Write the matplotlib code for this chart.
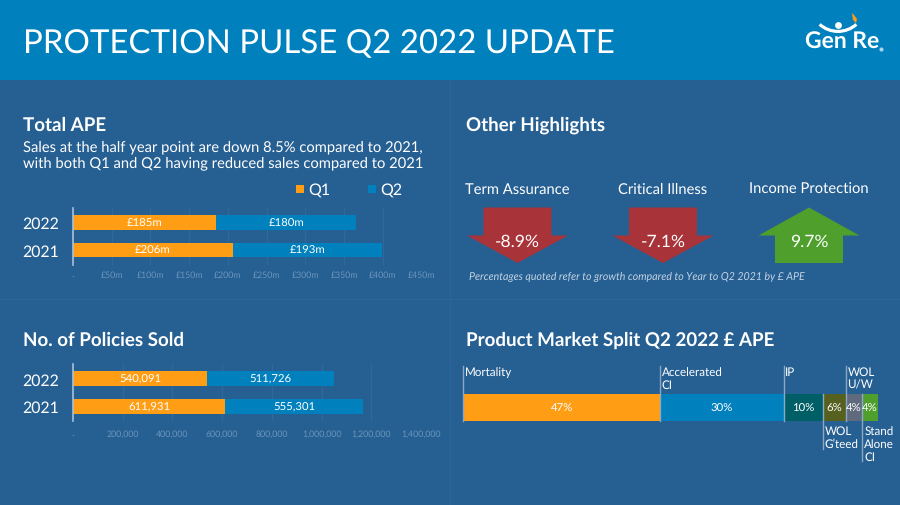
import matplotlib
matplotlib.use('Agg')
import matplotlib.pyplot as plt
import numpy as np
from matplotlib.patches import Polygon, Rectangle, Wedge

plt.rcParams['font.family'] = ['Lato', 'DejaVu Sans']
plt.rcParams['text.hinting'] = 'no_hinting'

W, H = 900, 506
BG = '#265f92'
HEADER = '#0080bd'
ORANGE = '#ff9e15'
BLUE = '#0080bd'
GRID = '#30689b'
TICK = '#6a96bd'
AXIS = '#a9c0d6'
SPLIT_LINE = '#8aa8c6'
WHITE = '#ffffff'

years = ['2022', '2021']
ape_q1 = [185, 206]
ape_q2 = [180, 193]
ape_q1_labels = ['£185m', '£206m']
ape_q2_labels = ['£180m', '£193m']
ape_ticks = [0, 50, 100, 150, 200, 250, 300, 350, 400, 450]
ape_tick_labels = ['-', '£50m', '£100m', '£150m', '£200m', '£250m', '£300m', '£350m', '£400m', '£450m']

pol_q1 = [540091, 611931]
pol_q2 = [511726, 555301]
pol_ticks = [0, 200000, 400000, 600000, 800000, 1000000, 1200000, 1400000]
pol_tick_labels = ['-', '200,000', '400,000', '600,000', '800,000', '1,000,000', '1,200,000', '1,400,000']

split_names = ['Mortality', 'Accelerated\nCI', 'IP', 'WOL\nG’teed', 'WOL\nU/W', 'Stand\nAlone\nCI']
split_values = [47.4, 29.8, 9.4, 5.6, 4.0, 3.7]
split_labels = ['47%', '30%', '10%', '6%', '4%', '4%']
split_colors = [ORANGE, BLUE, '#005f66', '#56601f', '#5f6b7c', '#4f9f2c']
split_above = [True, True, True, False, True, False]

highlight_names = ['Term Assurance', 'Critical Illness', 'Income Protection']
highlight_values = ['-8.9%', '-7.1%', '9.7%']
highlight_up = [False, False, True]


def px_axes(fig, left, top, right, bottom):
    return fig.add_axes([left / W, 1 - bottom / H, (right - left) / W, (bottom - top) / H])


def stacked(fig, box, q1, q2, lab1, lab2, ticks, tick_labels, xmax, tick_y):
    ax = px_axes(fig, *box)
    ax.patch.set_alpha(0)
    y = np.arange(len(years))[::-1]
    ax.barh(y, q1, height=0.51, color=ORANGE)
    ax.barh(y, q2, left=q1, height=0.51, color=BLUE)
    for i in range(len(years)):
        ax.text(q1[i] / 2, y[i], lab1[i], color=WHITE, ha='center', va='center', fontsize=8.2)
        ax.text(q1[i] + q2[i] / 2, y[i], lab2[i], color=WHITE, ha='center', va='center', fontsize=8.2)
    ax.set_xlim(0, xmax)
    ax.set_ylim(-0.52, 1.52)
    ax.set_xticks(ticks)
    ax.set_xticklabels(tick_labels, color=TICK, fontsize=6.3)
    ax.set_yticks(y)
    ax.set_yticklabels(years, color=WHITE, fontsize=11.4)
    ax.tick_params(axis='x', length=0, pad=tick_y)
    ax.tick_params(axis='y', length=0, pad=10)
    ax.grid(axis='x', color=GRID, lw=1)
    ax.set_axisbelow(True)
    for s in ['top', 'right', 'bottom']:
        ax.spines[s].set_visible(False)
    ax.spines['left'].set_color(AXIS)
    ax.spines['left'].set_linewidth(1.2)
    return ax


fig = plt.figure(figsize=(W / 100, H / 100), dpi=100, facecolor=BG)

# page layer in pixel coordinates
page = fig.add_axes([0, 0, 1, 1])
page.set_xlim(0, W)
page.set_ylim(H, 0)
page.axis('off')
page.add_patch(Rectangle((0, 0), W, 81, color=HEADER, lw=0))
page.plot([450, 450], [81, H], color='#2b659a', lw=1)
page.plot([0, W], [300, 300], color='#2b659a', lw=1)

page.text(23, 44, 'PROTECTION PULSE Q2 2022 UPDATE', color=WHITE, fontsize=23.8, va='center')

# logo
page.text(805, 42, 'Gen Re', color=WHITE, fontsize=16.5, fontweight='bold', va='center')
page.add_patch(Wedge((838, 5), 29, 48, 132, width=3.2, color=WHITE, lw=0))
page.add_patch(Rectangle((835.5, 24.5), 5, 4, color=HEADER, lw=0))
page.scatter([838], [26], s=24, color=WHITE, lw=0, zorder=3)
page.add_patch(Polygon([(852, 14), (853, 21), (856, 24), (857, 20), (854, 16)], color=ORANGE, lw=0))
page.scatter([881], [50], s=9, color='#a8d4ea', lw=0)

# headings
page.text(23, 125, 'Total APE', color=WHITE, fontsize=13.5, fontweight='bold', va='center')
page.text(23, 147, 'Sales at the half year point are down 8.5% compared to 2021,', color=WHITE, fontsize=10.6, va='center')
page.text(23, 163, 'with both Q1 and Q2 having reduced sales compared to 2021', color=WHITE, fontsize=10.6, va='center')
page.text(23, 340, 'No. of Policies Sold', color=WHITE, fontsize=13.5, fontweight='bold', va='center')
page.text(466, 125, 'Other Highlights', color=WHITE, fontsize=13.5, fontweight='bold', va='center')
page.text(466, 340, 'Product Market Split Q2 2022 £ APE', color=WHITE, fontsize=13.5, fontweight='bold', va='center')

# legend
page.add_patch(Rectangle((296, 186), 8, 8, color=ORANGE, lw=0))
page.text(308, 190, 'Q1', color=WHITE, fontsize=11.5, va='center')
page.add_patch(Rectangle((368, 186), 8, 8, color=BLUE, lw=0))
page.text(380, 190, 'Q2', color=WHITE, fontsize=11.5, va='center')

stacked(fig, (73, 209, 421.7, 265.7), ape_q1, ape_q2, ape_q1_labels, ape_q2_labels,
        ape_ticks, ape_tick_labels, 450, 4)
stacked(fig, (73, 365, 421, 422), pol_q1, pol_q2,
        [f'{v:,}' for v in pol_q1], [f'{v:,}' for v in pol_q2],
        pol_ticks, pol_tick_labels, 1400000, 6)

# highlights arrows
centers = [517.5, 663, 809]
for cx, name, val, up in zip(centers, highlight_names, highlight_values, highlight_up):
    page.text(cx, 190, name, color=WHITE, fontsize=10.6, ha='center', va='center')
    if up:
        pts = [(cx, 208.5), (cx + 50.5, 236.5), (cx + 34, 236.5), (cx + 34, 264), (cx - 34, 264), (cx - 34, 236.5), (cx - 50.5, 236.5)]
        col = '#4f9f2c'
    else:
        pts = [(cx - 34, 208.5), (cx + 34, 208.5), (cx + 34, 236.5), (cx + 50.5, 236.5), (cx, 264), (cx - 50.5, 236.5), (cx - 34, 236.5)]
        col = '#a8343a'
    page.add_patch(Polygon(pts, color=col, lw=0))
    page.text(cx, 242, val, color=WHITE, fontsize=12.6, ha='center', va='center')
page.text(469, 277, 'Percentages quoted refer to growth compared to Year to Q2 2021 by £ APE',
          color='#c3d3e2', fontsize=7.7, style='italic', va='center')

# market split
ax = px_axes(fig, 463.3, 395, 877.7, 421.7)
ax.axis('off')
ax.patch.set_alpha(0)
ax.set_xlim(0, sum(split_values))
ax.set_ylim(0, 1)
left = 0
for name, v, lab, c, above in zip(split_names, split_values, split_labels, split_colors, split_above):
    ax.barh(0.5, v, left=left, height=1, color=c)
    ax.text(left + v / 2, 0.5, lab, color=WHITE, ha='center', va='center', fontsize=8.2)
    if above:
        ax.plot([left, left], [0, 2.06], color=SPLIT_LINE, lw=1, clip_on=False)
        ax.text(left + 0.4, 1.15 if '\n' in name else 1.84, name, color=WHITE, fontsize=8.4,
                va='bottom' if '\n' in name else 'center', linespacing=1.2, clip_on=False)
    else:
        drop = -1.5 if name.count('\n') == 2 else -1.06
        ax.plot([left, left], [1, drop], color=SPLIT_LINE, lw=1, clip_on=False)
        ax.text(left + 0.5, -0.18, name, color=WHITE, fontsize=8.4, va='top', linespacing=1.2, clip_on=False)
    left += v

fig.savefig('out.png', dpi=100, facecolor=BG)
